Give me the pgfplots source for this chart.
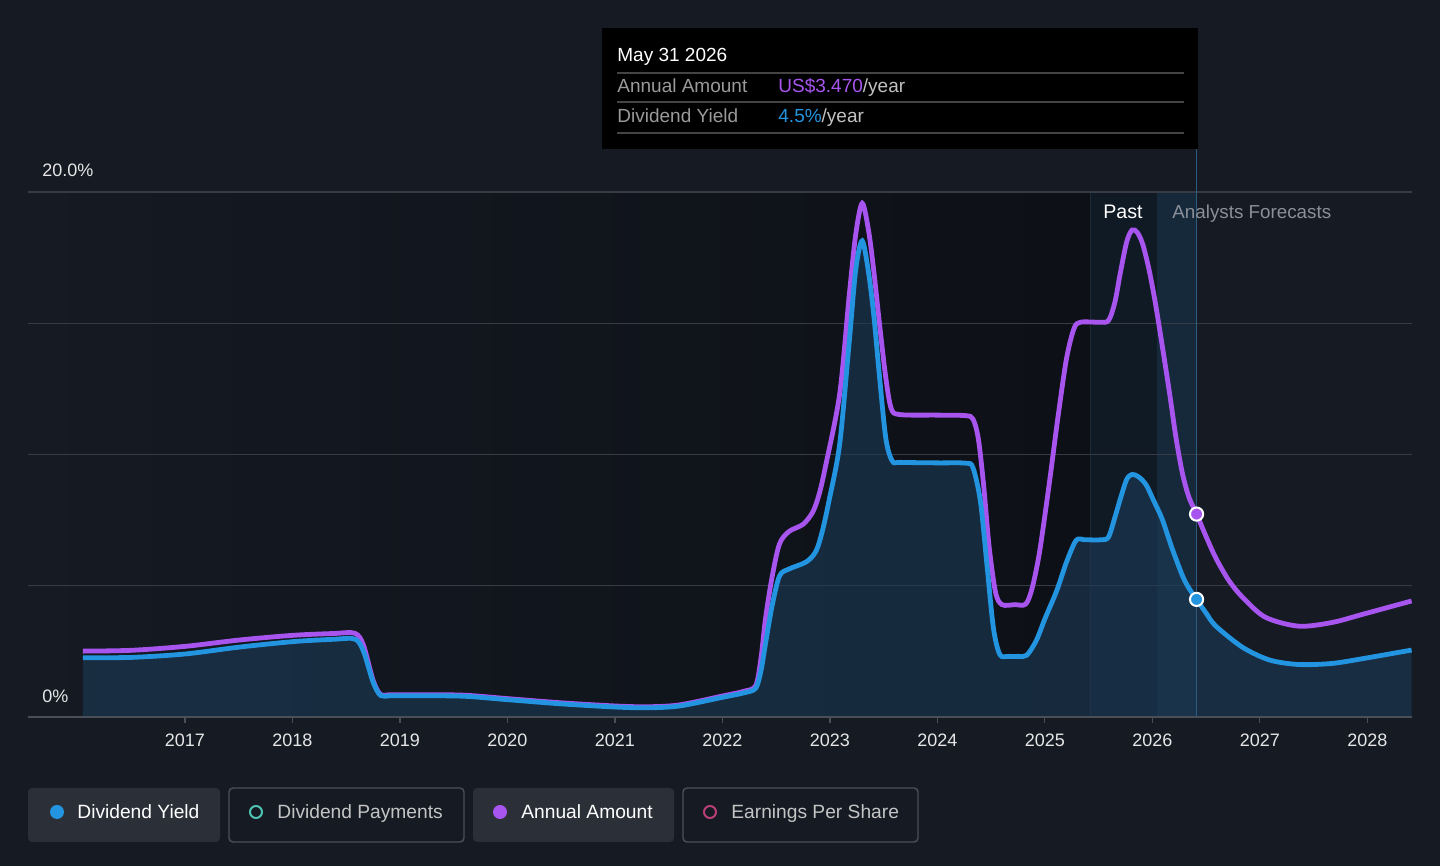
\documentclass[border=0pt]{standalone}
\usepackage{fontspec}
\setmainfont{Liberation Sans}
\usepackage{pgfplots}
\pgfplotsset{compat=1.18}
\usepackage{pgfplotstable}
\definecolor{bg}{HTML}{151A23}
\definecolor{pastdark}{HTML}{0D1016}
\definecolor{bandA}{HTML}{101A25}
\definecolor{bandB}{HTML}{16293A}
\definecolor{bandline}{HTML}{1C2A38}
\definecolor{gridcol}{HTML}{363B45}
\definecolor{axiscol}{HTML}{4A4E57}
\definecolor{labcol}{HTML}{E6E6E6}
\definecolor{bluec}{HTML}{2394E0}
\definecolor{purplec}{HTML}{A855F0}
\definecolor{fillc}{HTML}{1C3B57}
\definecolor{tealc}{HTML}{4FC1B0}
\definecolor{pinkc}{HTML}{B83F76}
\definecolor{btnfill}{HTML}{2B2F38}
\definecolor{btnline}{HTML}{4B5058}
\definecolor{graytxt}{HTML}{9A9A9A}
\definecolor{fcgray}{HTML}{8A8F98}
\definecolor{sepcol}{HTML}{444444}
\definecolor{vline}{HTML}{2D5A7E}

\pgfplotstableread{
x y
2016.05 2.26
2016.5 2.27
2017.0 2.40
2017.5 2.66
2018.0 2.87
2018.38 2.96
2018.58 2.97
2018.66 2.51
2018.75 1.33
2018.82 0.82
2018.92 0.81
2019.2 0.81
2019.6 0.79
2020.0 0.66
2020.5 0.50
2021.0 0.38
2021.3 0.35
2021.6 0.42
2022.0 0.75
2022.2 0.92
2022.31 1.10
2022.36 1.8
2022.40 2.79
2022.46 4.2
2022.53 5.37
2022.62 5.64
2022.78 5.91
2022.87 6.32
2022.93 7.1
2022.99 8.22
2023.09 10.39
2023.18 14.33
2023.24 17.05
2023.30 18.14
2023.36 16.9
2023.41 15.2
2023.46 13.0
2023.52 10.6
2023.58 9.75
2023.66 9.70
2024.0 9.68
2024.26 9.67
2024.33 9.50
2024.40 8.2
2024.46 5.8
2024.52 3.4
2024.58 2.38
2024.66 2.31
2024.75 2.31
2024.83 2.35
2024.92 2.92
2025.0 3.75
2025.11 4.82
2025.2 5.9
2025.29 6.73
2025.37 6.75
2025.52 6.75
2025.59 6.85
2025.65 7.6
2025.70 8.3
2025.76 9.05
2025.81 9.24
2025.87 9.15
2025.94 8.85
2026.01 8.25
2026.09 7.54
2026.18 6.45
2026.28 5.37
2026.34 4.9
2026.41 4.48
2026.50 3.95
2026.59 3.46
2026.84 2.65
2027.09 2.17
2027.36 2.00
2027.67 2.04
2027.98 2.24
2028.41 2.55
}\yieldtab

\pgfplotstableread{
x y
2016.05 2.51
2016.5 2.54
2017.0 2.69
2017.5 2.93
2018.0 3.11
2018.38 3.18
2018.58 3.19
2018.66 2.74
2018.75 1.40
2018.82 0.86
2018.92 0.85
2019.2 0.85
2019.6 0.83
2020.0 0.70
2020.5 0.54
2021.0 0.42
2021.3 0.39
2021.6 0.46
2022.0 0.80
2022.2 0.98
2022.31 1.20
2022.36 2.3
2022.40 3.74
2022.46 5.3
2022.53 6.59
2022.62 7.07
2022.75 7.34
2022.84 7.81
2022.90 8.5
2022.96 9.58
2023.09 12.30
2023.18 16.10
2023.24 18.4
2023.30 19.57
2023.36 18.5
2023.41 16.9
2023.46 15.0
2023.52 12.9
2023.57 11.75
2023.65 11.52
2024.0 11.50
2024.26 11.48
2024.33 11.35
2024.38 10.6
2024.43 8.8
2024.48 6.5
2024.54 4.75
2024.60 4.28
2024.72 4.28
2024.82 4.30
2024.88 4.9
2024.95 6.3
2025.04 8.90
2025.12 11.4
2025.20 13.65
2025.27 14.8
2025.33 15.04
2025.50 15.04
2025.59 15.10
2025.65 15.8
2025.70 16.9
2025.76 18.1
2025.81 18.55
2025.86 18.45
2025.91 18.00
2025.97 17.0
2026.03 15.69
2026.10 13.9
2026.16 12.30
2026.22 10.6
2026.28 9.25
2026.34 8.36
2026.41 7.73
2026.50 6.86
2026.59 6.05
2026.71 5.2
2026.84 4.55
2027.05 3.80
2027.36 3.46
2027.67 3.60
2027.98 3.94
2028.41 4.42
}\amounttab

\begin{document}
\begin{tikzpicture}
% background in pixel coordinates
\begin{scope}[x=0.5pt,y=-0.5pt,yshift=433pt]
\fill[bg] (0,0) rectangle (1440,866);
\shade[left color=bg, right color=pastdark] (28,192) rectangle (1090,717);
\fill[bandA] (1090,192) rectangle (1157,717);
\fill[bandB] (1157,192) rectangle (1197,717);
\draw[bandline, line width=0.5pt] (1090,192) -- (1090,717);
\end{scope}

\begin{axis}[
  at={(14pt,74.5pt)}, anchor=south west, scale only axis,
  width=692pt, height=262.5pt,
  xmin=2015.54, xmax=2028.414, ymin=0, ymax=20,
  axis line style={draw=none},
  ytick={0,5,10,15,20}, yticklabels={}, ytick style={draw=none},
  ymajorgrids, major grid style={draw=gridcol, line width=0.6pt},
  xtick={2017,...,2028}, xtick pos=bottom, tick align=outside,
  major tick length=3pt, xtick style={draw=axiscol, line width=0.6pt},
  xticklabel style={font=\fontsize{9}{10}\selectfont, text=labcol, yshift=-2pt},
  /pgf/number format/1000 sep={}, /pgf/number format/assume math mode=true,
  clip=false,
]
\addplot[draw=none, fill=fillc, fill opacity=0.6, smooth, tension=0.5] table {\yieldtab} \closedcycle;
\addplot[purplec, line width=2.4pt, smooth, tension=0.5] table {\amounttab};
\addplot[bluec, line width=2.4pt, smooth, tension=0.5] table {\yieldtab};
\draw[axiscol, line width=0.8pt] (axis cs:2015.54,0) -- (axis cs:2028.414,0);
\draw[vline, line width=0.6pt] (axis cs:2026.41,0) -- (axis cs:2026.41,21.64);
\addplot[only marks, mark=*, mark size=3.3pt, mark options={fill=purplec, draw=white, line width=1pt}] coordinates {(2026.41,7.73)};
\addplot[only marks, mark=*, mark size=3.3pt, mark options={fill=bluec, draw=white, line width=1pt}] coordinates {(2026.41,4.48)};
\end{axis}

\begin{scope}[x=0.5pt,y=-0.5pt,yshift=433pt]
% y labels
\node[anchor=base west, inner sep=0, text=labcol, font=\fontsize{9}{10}\selectfont] at (42,176.5) {20.0\%};
\node[anchor=base west, inner sep=0, text=labcol, font=\fontsize{9}{10}\selectfont] at (42,702.5) {0\%};
% Past / forecasts
\node[anchor=base west, inner sep=0, text=white, font=\fontsize{9.8}{11}\selectfont] at (1103,219) {Past};
\node[anchor=base west, inner sep=0, text=fcgray, font=\fontsize{9.4}{11}\selectfont] at (1172,219) {Analysts Forecasts};
% tooltip
\fill[black] (602,28) rectangle (1198,149);
\draw[sepcol, line width=0.6pt] (617,73) -- (1184,73);
\draw[sepcol, line width=0.6pt] (617,102) -- (1184,102);
\draw[sepcol, line width=0.6pt] (617,133) -- (1184,133);
\node[anchor=base west, inner sep=0, text=white, font=\fontsize{9.5}{11}\selectfont] at (617,62) {May 31 2026};
\node[anchor=base west, inner sep=0, text=graytxt, font=\fontsize{9.5}{11}\selectfont] at (617,93) {Annual Amount};
\node[anchor=base west, inner sep=0, font=\fontsize{9.5}{11}\selectfont] at (778,93) {\textcolor{purplec}{US\$3.470}\textcolor{graytxt!60!white}{/year}};
\node[anchor=base west, inner sep=0, text=graytxt, font=\fontsize{9.5}{11}\selectfont] at (617,123) {Dividend Yield};
\node[anchor=base west, inner sep=0, font=\fontsize{9.5}{11}\selectfont] at (778,123) {\textcolor{bluec}{4.5\%}\textcolor{graytxt!60!white}{/year}};
% legend buttons
\fill[btnfill, rounded corners=2pt] (28,788) rectangle (220,842);
\draw[btnline, line width=0.7pt, rounded corners=2pt] (229,788) rectangle (464,842);
\fill[btnfill, rounded corners=2pt] (473,788) rectangle (674,842);
\draw[btnline, line width=0.7pt, rounded corners=2pt] (683,788) rectangle (918,842);
\fill[bluec] (57,812) circle (7);
\draw[tealc, line width=1pt] (256,812) circle (6);
\fill[purplec] (500,812) circle (7);
\draw[pinkc, line width=1pt] (710,812) circle (6);
\node[anchor=base west, inner sep=0, text=white, font=\fontsize{9.6}{11}\selectfont] at (77,819) {Dividend Yield};
\node[anchor=base west, inner sep=0, text=labcol!85!black, font=\fontsize{9.6}{11}\selectfont] at (277,819) {Dividend Payments};
\node[anchor=base west, inner sep=0, text=white, font=\fontsize{9.6}{11}\selectfont] at (521,819) {Annual Amount};
\node[anchor=base west, inner sep=0, text=labcol!85!black, font=\fontsize{9.6}{11}\selectfont] at (731,819) {Earnings Per Share};
\end{scope}
\end{tikzpicture}
\end{document}
